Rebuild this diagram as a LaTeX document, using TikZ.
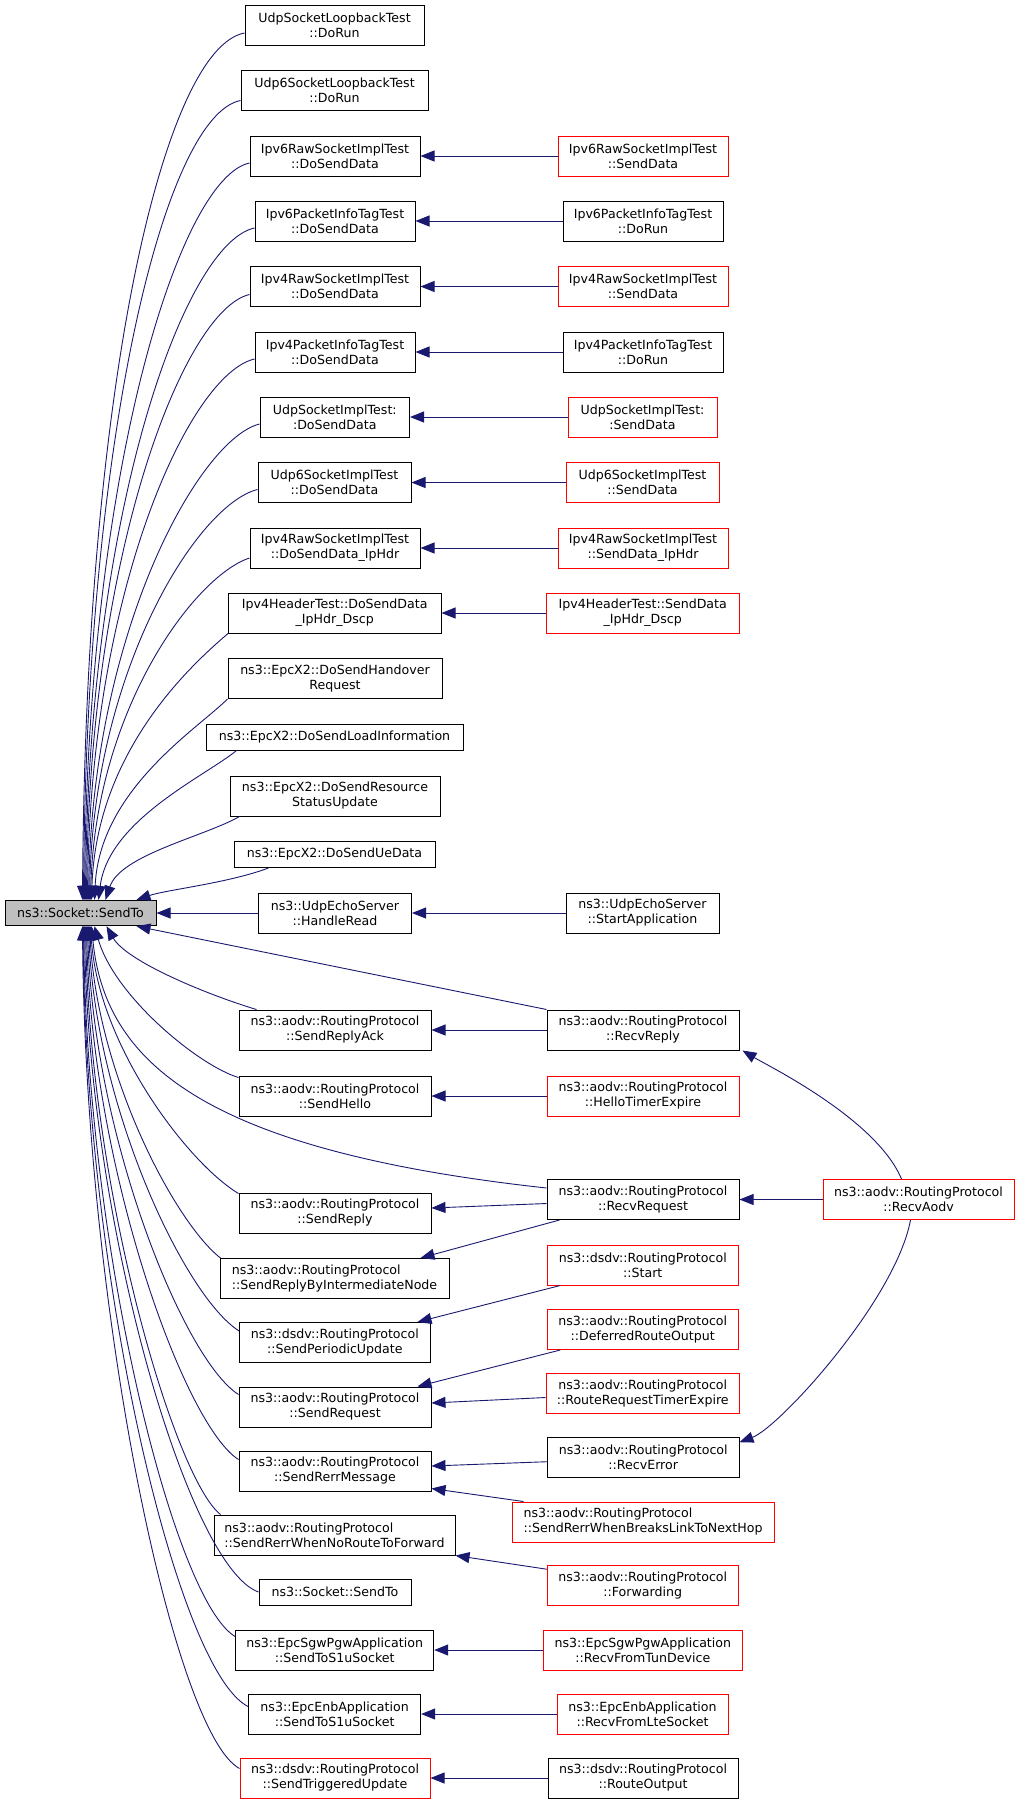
\documentclass[tikz,border=0pt]{standalone}
\usepackage{fontspec}
\setmainfont{DejaVu Sans}
\usetikzlibrary{arrows.meta}
\definecolor{edgeblue}{HTML}{191970}
\definecolor{curgray}{HTML}{BFBFBF}
\tikzset{
	block/.style={draw=black, line width=1pt, fill=white, inner xsep=1pt,
		inner ysep=2pt, minimum height=40pt, align=center,
		font={\fontsize{12.6}{15}\selectfont}},
	redblock/.style={block, draw=red},
	oneline/.style={minimum height=26pt},
	curblock/.style={block, fill=curgray, minimum height=25.4pt},
	call/.style={draw=edgeblue, line width=0.9pt,
		-{Triangle[length=14pt, width=11pt]}},
}
\begin{document}
\begin{tikzpicture}[x=1pt, y=-1pt]
\useasboundingbox (0,0) rectangle (1016,1813);

% the function itself
\node [curblock, minimum width=151pt] at (80.5,913) (sendto) {ns3::Socket::SendTo};

% callers, first column
\node [block, minimum width=179pt] at (334.5,25) (l1) {UdpSocketLoopbackTest\\::DoRun};
\node [block, minimum width=187pt] at (334.5,90.5) (l2) {Udp6SocketLoopbackTest\\::DoRun};
\node [block, minimum width=170pt] at (335,156) (l3) {Ipv6RawSocketImplTest\\::DoSendData};
\node [block, minimum width=160pt] at (335,221) (l4) {Ipv6PacketInfoTagTest\\::DoSendData};
\node [block, minimum width=170pt] at (335,286.5) (l5) {Ipv4RawSocketImplTest\\::DoSendData};
\node [block, minimum width=160pt] at (335,352) (l6) {Ipv4PacketInfoTagTest\\::DoSendData};
\node [block, minimum width=149.5pt] at (334.75,417) (l7) {UdpSocketImplTest:\\:DoSendData};
\node [block, minimum width=153pt] at (334.5,482.5) (l8) {Udp6SocketImplTest\\::DoSendData};
\node [block, minimum width=170pt] at (335,548) (l9) {Ipv4RawSocketImplTest\\::DoSendData\_IpHdr};
\node [block, minimum width=212.5pt] at (334.75,613) (l10) {Ipv4HeaderTest::DoSendData\\\_IpHdr\_Dscp};
\node [block, minimum width=214pt] at (335,678.5) (l11) {ns3::EpcX2::DoSendHandover\\Request};
\node [block, oneline, minimum width=257pt] at (334.5,737) (l12) {ns3::EpcX2::DoSendLoadInformation};
\node [block, minimum width=210pt] at (335,796) (l13) {ns3::EpcX2::DoSendResource\\StatusUpdate};
\node [block, oneline, minimum width=201pt] at (334.5,854.5) (l14) {ns3::EpcX2::DoSendUeData};
\node [block, minimum width=153pt] at (335,913) (l15) {ns3::UdpEchoServer\\::HandleRead};
\node [block, minimum width=192pt] at (335,1030) (l16) {ns3::aodv::RoutingProtocol\\::SendReplyAck};
\node [block, minimum width=192pt] at (335,1096) (l17) {ns3::aodv::RoutingProtocol\\::SendHello};
\node [block, minimum width=192pt] at (335,1213) (l18) {ns3::aodv::RoutingProtocol\\::SendReply};
\node [block, align=left, minimum width=229pt] at (334.5,1278.5) (l19) {ns3::aodv::RoutingProtocol\\::SendReplyByIntermediateNode};
\node [block, minimum width=190.4pt] at (334.8,1342.5) (l20) {ns3::dsdv::RoutingProtocol\\::SendPeriodicUpdate};
\node [block, minimum width=192pt] at (335,1407) (l21) {ns3::aodv::RoutingProtocol\\::SendRequest};
\node [block, minimum width=192pt] at (335,1471) (l22) {ns3::aodv::RoutingProtocol\\::SendRerrMessage};
\node [block, align=left, minimum width=241pt] at (334.5,1535) (l23) {ns3::aodv::RoutingProtocol\\::SendRerrWhenNoRouteToForward};
\node [block, oneline, minimum width=152pt] at (335,1592) (l24) {ns3::Socket::SendTo};
\node [block, minimum width=198pt] at (334.7,1650) (l25) {ns3::EpcSgwPgwApplication\\::SendToS1uSocket};
\node [block, minimum width=172pt] at (334.6,1714) (l26) {ns3::EpcEnbApplication\\::SendToS1uSocket};
\node [redblock, minimum width=190pt] at (335,1778) (l27) {ns3::dsdv::RoutingProtocol\\::SendTriggeredUpdate};

% callers, second column
\node [redblock, minimum width=170pt] at (643,156) (r3) {Ipv6RawSocketImplTest\\::SendData};
\node [block, minimum width=160pt] at (643,221) (r4) {Ipv6PacketInfoTagTest\\::DoRun};
\node [redblock, minimum width=170pt] at (643,286.5) (r5) {Ipv4RawSocketImplTest\\::SendData};
\node [block, minimum width=160pt] at (643,352) (r6) {Ipv4PacketInfoTagTest\\::DoRun};
\node [redblock, minimum width=149pt] at (642.5,417) (r7) {UdpSocketImplTest:\\:SendData};
\node [redblock, minimum width=153pt] at (642.5,482.5) (r8) {Udp6SocketImplTest\\::SendData};
\node [redblock, minimum width=170pt] at (643,548) (r9) {Ipv4RawSocketImplTest\\::SendData\_IpHdr};
\node [redblock, minimum width=193.5pt] at (642.75,613) (r10) {Ipv4HeaderTest::SendData\\\_IpHdr\_Dscp};
\node [block, minimum width=153pt] at (642.5,913) (r15) {ns3::UdpEchoServer\\::StartApplication};
\node [block, minimum width=192pt] at (643,1030) (recvreply) {ns3::aodv::RoutingProtocol\\::RecvReply};
\node [redblock, minimum width=192pt] at (643,1096) (hello) {ns3::aodv::RoutingProtocol\\::HelloTimerExpire};
\node [block, minimum width=192pt] at (643,1199.5) (recvreq) {ns3::aodv::RoutingProtocol\\::RecvRequest};
\node [redblock, minimum width=191pt] at (642.75,1265) (dstart) {ns3::dsdv::RoutingProtocol\\::Start};
\node [redblock, minimum width=191pt] at (642.75,1329.5) (deferred) {ns3::aodv::RoutingProtocol\\::DeferredRouteOutput};
\node [redblock, minimum width=193.5pt] at (642.75,1393.5) (rreqtimer) {ns3::aodv::RoutingProtocol\\::RouteRequestTimerExpire};
\node [block, minimum width=191.5pt] at (643.25,1457.7) (recverr) {ns3::aodv::RoutingProtocol\\::RecvError};
\node [redblock, align=left, minimum width=262pt] at (643,1522) (breaks) {ns3::aodv::RoutingProtocol\\::SendRerrWhenBreaksLinkToNextHop};
\node [redblock, minimum width=191pt] at (642.75,1585.7) (fwd) {ns3::aodv::RoutingProtocol\\::Forwarding};
\node [redblock, minimum width=198.4pt] at (642.8,1650) (r25) {ns3::EpcSgwPgwApplication\\::RecvFromTunDevice};
\node [redblock, minimum width=171pt] at (642.5,1714) (r26) {ns3::EpcEnbApplication\\::RecvFromLteSocket};
\node [block, minimum width=190pt] at (643,1778) (r27) {ns3::dsdv::RoutingProtocol\\::RouteOutput};

% third column
\node [redblock, minimum width=191pt] at (918.5,1199.5) (recvaodv) {ns3::aodv::RoutingProtocol\\::RecvAodv};

% calls into the function from above
\foreach \n/\an/\sx/\sy/\tx/\ax/\ay/\bx/\by in {
	l1/west/0/8/78/-80/15/3/-520, l2/west/0/10/79/-75/15/3/-470,
	l3/west/0/7/80/-70/15/3/-430, l4/west/0/7/81/-70/15/3/-390,
	l5/west/0/8/82/-65/15/3/-350, l6/west/0/7/83/-65/15/3/-310,
	l7/west/0/7/84/-60/15/4/-270, l8/west/0/7/85/-60/15/4/-230,
	l9/west/0/10/86/-55/18/5/-190, l10/south west/0/0/87/-35/30/5/-150,
	l11/south west/0/0/90/-30/30/5/-110, l12/south west/31/0/94/-30/25/10/-80,
	l13/south west/10/0/101/-35/20/15/-45, l14/south west/35/0/132/-40/15/30/-10}
	\draw [call] ([shift={(\sx,\sy)}]\n.\an) .. controls +(\ax,\ay) and +(\bx,\by)
		.. ([xshift=\tx pt]sendto.north west);

% calls into the function from below
\foreach \n/\an/\sx/\sy/\tx/\ax/\ay/\bx/\by in {
	l16/north west/18/0/102/-50/-15/20/35, l17/north west/0/2/90/-40/-12/20/70,
	l18/north west/0/1/86/-50/-30/8/120, l19/north west/1/0/85/-45/-35/8/150,
	l20/north west/0/9/84/-55/-35/7/180, l21/north west/0/8/83/-55/-35/6/210,
	l22/north west/0/9/82/-55/-35/5/240, l23/north west/7/0/81/-45/-35/5/270,
	l24/west/0/0/80/-70/-25/4/300, l25/north west/0/7/79/-60/-35/4/330,
	l26/north west/0/13/78.5/-70/-35/3/360, l27/north west/0/11/78/-65/-35/3/390}
	\draw [call] ([shift={(\sx,\sy)}]\n.\an) .. controls +(\ax,\ay) and +(\bx,\by)
		.. ([xshift=\tx pt]sendto.south west);

\draw [call] (l15.west) -- (sendto.east);
\draw [call] (recvreply.north west) -- ([xshift=132pt]sendto.south west);
\draw [call] ([shift={(0,-11.5)}]recvreq.west) .. controls +(-347,-38) and +(13,134)
	.. ([xshift=87pt]sendto.south west);

% straight calls between the columns
\foreach \a/\b in {r3/l3, r4/l4, r5/l5, r6/l6, r7/l7, r8/l8, r9/l9, r10/l10,
	r15/l15, recvreply/l16, hello/l17, r25/l25, r26/l26, r27/l27, recvaodv/recvreq}
	\draw [call] (\a.west) -- (\b.east);

\draw [call] ([shift={(0,4)}]recvreq.west) -- ([shift={(0,-5)}]l18.east);
\draw [call] ([shift={(13,0)}]recvreq.south west) -- ([shift={(-29,0)}]l19.north east);
\draw [call] ([shift={(13.5,0)}]dstart.south west) -- ([shift={(-13,0)}]l20.north east);
\draw [call] ([shift={(13.5,0)}]deferred.south west) -- ([shift={(-14,0)}]l21.north east);
\draw [call] ([shift={(0,4)}]rreqtimer.west) -- ([shift={(0,-4)}]l21.east);
\draw [call] ([shift={(0,4)}]recverr.west) -- ([shift={(0,-5)}]l22.east);
\draw [call] ([shift={(12,0)}]breaks.north west) -- ([shift={(0,-3)}]l22.south east);
\draw [call] ([shift={(0,4)}]fwd.north west) -- (l23.south east);

% RecvAodv up and down
\draw [call] ([shift={(79,0)}]recvaodv.north west) .. controls +(-25,-60) and +(25,15)
	.. ([shift={(3,0)}]recvreply.south east);
\draw [call] ([shift={(88,0)}]recvaodv.south west) .. controls +(-15,80) and +(40,-15)
	.. ([shift={(0,5)}]recverr.north east);

\end{tikzpicture}
\end{document}
